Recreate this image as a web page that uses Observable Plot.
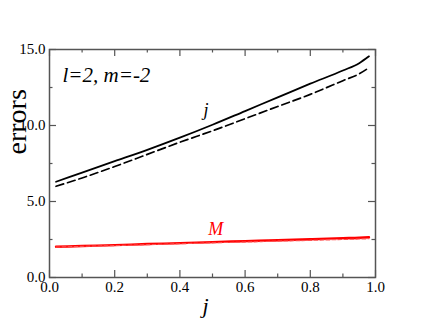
<!DOCTYPE html>
<html>
<head>
<meta charset="utf-8">
<script src="https://cdn.jsdelivr.net/npm/d3@7"></script>
<script src="https://cdn.jsdelivr.net/npm/@observablehq/plot@0.6"></script>
<style>
  html, body { margin: 0; padding: 0; background: #fff; }
  svg text { font-family: "Liberation Serif", serif !important; }
</style>
</head>
<body>
<div id="chart"></div>
<script>
// ---- data ----
const jVals      = [0.02, 0.1, 0.2, 0.3, 0.4, 0.5, 0.6, 0.7, 0.8, 0.9, 0.95, 0.98];
const errJSolid  = [6.3, 6.9, 7.65, 8.4, 9.2, 10.05, 10.95, 11.85, 12.75, 13.62, 14.1, 14.55];
const errJDashed = [6.0, 6.55, 7.3, 8.1, 8.9, 9.65, 10.45, 11.25, 12.05, 12.95, 13.4, 13.8];
const errMSolid  = [2.02, 2.07, 2.13, 2.2, 2.26, 2.33, 2.39, 2.45, 2.52, 2.59, 2.62, 2.65];
const errMDashed = [2.0, 2.05, 2.1, 2.16, 2.22, 2.28, 2.33, 2.39, 2.44, 2.5, 2.53, 2.55];

const xMajor = [0, 0.2, 0.4, 0.6, 0.8, 1.0];
const xMinor = [0.1, 0.3, 0.5, 0.7, 0.9];
const yMajor = [0, 5, 10, 15];
const yMinor = [2.5, 7.5, 12.5];

const panelLabel = "l=2, m=-2";
const curveLabels = [
  {x: 0.48, y: 10.6, text: "j", color: "black"},
  {x: 0.51, y: 2.77, text: "M", color: "red"}
];
const xTitle = "j";
const yTitle = "errors";

const series = (vals) => jVals.map((x, i) => ({x, y: vals[i]}));

const FONT = "Liberation Serif";
const frameW = 326, frameH = 228;
const gray = "#555";

const chart = Plot.plot({
  width: 423,
  height: 327,
  marginLeft: 49,
  marginRight: 48,
  marginTop: 49,
  marginBottom: 50,
  style: {fontFamily: FONT, color: "black", background: "white"},
  x: {domain: [0, 1]},
  y: {domain: [0, 15]},
  marks: [
    // lines
    Plot.line(series(errJSolid), {x: "x", y: "y", stroke: "black", strokeWidth: 1.8, curve: "monotone-x"}),
    Plot.line(series(errJDashed), {x: "x", y: "y", stroke: "black", strokeWidth: 1.7, strokeDasharray: "8,4", curve: "monotone-x"}),
    Plot.line(series(errMSolid), {x: "x", y: "y", stroke: "red", strokeWidth: 2.4, curve: "monotone-x"}),
    Plot.line(series(errMDashed), {x: "x", y: "y", stroke: "#ff5050", strokeWidth: 1.1, strokeDasharray: "4,2", curve: "monotone-x"}),
    // inward ticks: bottom & top
    Plot.tickX(xMajor, {x: d => d, stroke: gray, strokeWidth: 1.2, insetTop: frameH - 7}),
    Plot.tickX(xMinor, {x: d => d, stroke: gray, strokeWidth: 1.2, insetTop: frameH - 3.5}),
    Plot.tickX(xMajor, {x: d => d, stroke: gray, strokeWidth: 1.2, insetBottom: frameH - 7}),
    Plot.tickX(xMinor, {x: d => d, stroke: gray, strokeWidth: 1.2, insetBottom: frameH - 3.5}),
    // inward ticks: left & right
    Plot.tickY(yMajor, {y: d => d, stroke: gray, strokeWidth: 1.2, insetRight: frameW - 7}),
    Plot.tickY(yMinor, {y: d => d, stroke: gray, strokeWidth: 1.2, insetRight: frameW - 3.5}),
    Plot.tickY(yMajor, {y: d => d, stroke: gray, strokeWidth: 1.2, insetLeft: frameW - 7}),
    Plot.tickY(yMinor, {y: d => d, stroke: gray, strokeWidth: 1.2, insetLeft: frameW - 3.5}),
    Plot.frame({stroke: gray, strokeWidth: 1.5}),
    // tick labels
    Plot.axisX({ticks: xMajor, tickSize: 0, tickPadding: 4, tickFormat: d3.format(".1f"), fontSize: 15, fontFamily: FONT, fontVariant: "normal", label: null}),
    Plot.axisY({ticks: yMajor, tickSize: 0, tickPadding: 4, tickFormat: d3.format(".1f"), fontSize: 15, fontFamily: FONT, fontVariant: "normal", label: null}),
    // annotations
    Plot.text([panelLabel], {x: 0.04, y: 12.83, text: d => d, textAnchor: "start", lineAnchor: "bottom", fontSize: 21, fontStyle: "italic", fontFamily: FONT, fill: "black"}),
    Plot.text(curveLabels, {x: "x", y: "y", text: "text", fill: "color", lineAnchor: "bottom", fontSize: 18, fontStyle: "italic", fontFamily: FONT}),
    // axis titles
    Plot.text([xTitle], {text: d => d, frameAnchor: "bottom", dy: 35, dx: -7, lineAnchor: "bottom", fontSize: 22, fontStyle: "italic", fontFamily: FONT, fill: "black"}),
    Plot.text([yTitle], {text: d => d, frameAnchor: "left", rotate: -90, dx: -24, dy: -9, lineAnchor: "bottom", fontSize: 28, fontFamily: FONT, fill: "black"})
  ]
});

document.getElementById("chart").appendChild(chart);
</script>
</body>
</html>
